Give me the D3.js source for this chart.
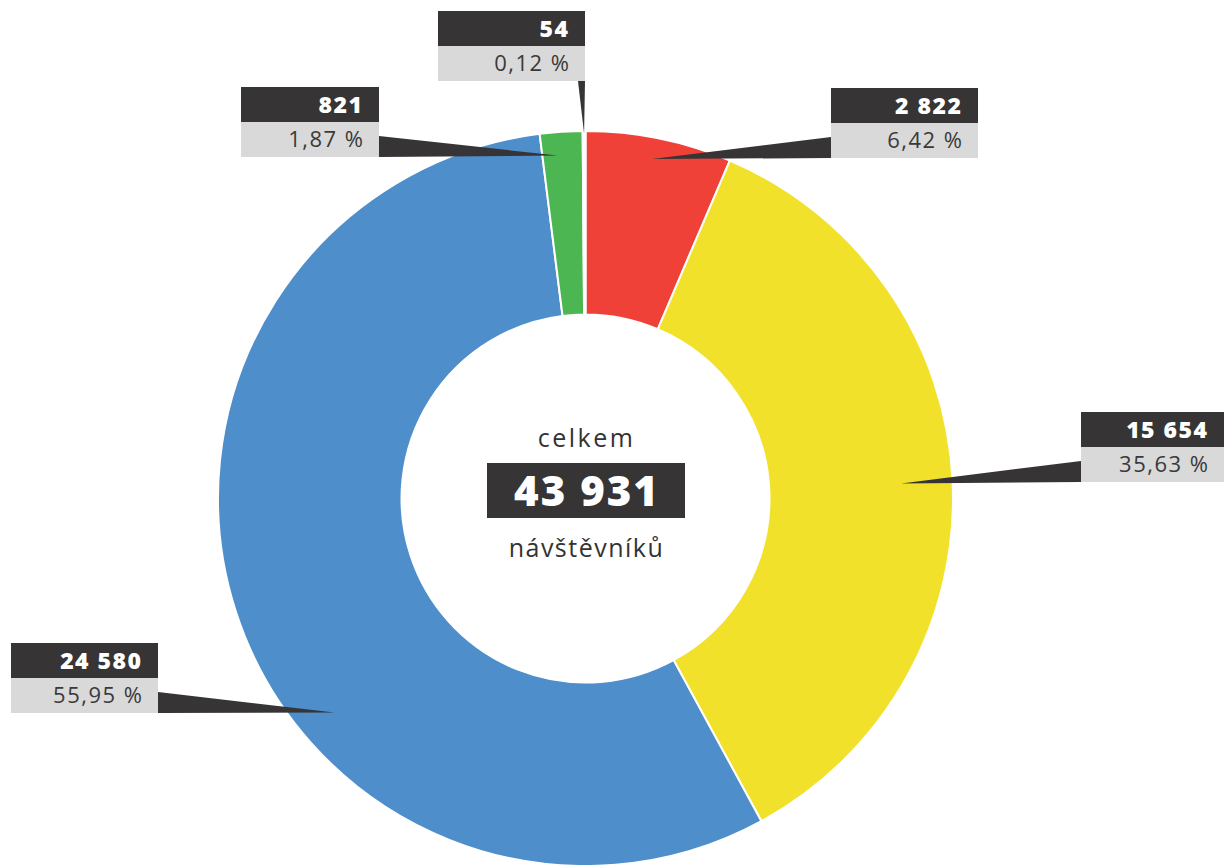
<!DOCTYPE html>
<html>
<head>
<meta charset="utf-8">
<script src="https://cdn.jsdelivr.net/npm/d3@7"></script>
<style>
  html, body { margin: 0; padding: 0; background: #fff; }
  svg { display: block; }
  text { font-family: "Open Sans", Lato, sans-serif; }
</style>
</head>
<body>
<svg id="chart" width="1224" height="865"></svg>
<script>
// ---- data ----
const categories = ["A", "B", "C", "D", "E"];
const values = [2822, 15654, 24580, 821, 54];
const colors = ["#EF4137", "#F2E12B", "#4E8ECB", "#4CB752", "#FFFFFF"];
const centerTop = "celkem";
const centerBottom = "návštěvníků";

// ---- label layout (annotation boxes) ----
const boxX = [831, 1081, 11, 241, 438];
const boxY = [88, 412, 643, 87, 11];
const boxW = [147, 143, 147, 138, 147];
const boxSide = ["left", "left", "right", "right", "bottom"];
const tipT = [0.48, 0.5, 0.388, 0.38, 0.5];
const tipR = [346, 316, 330, 344, 365];

const W = 1224, H = 865;
const cx = 585.5, cy = 498.5;
const outerR = 367.5, innerR = 184;
const dark = "#363435", light = "#D9D9D9";

const loc = d3.formatLocale({decimal: ",", thousands: " ", grouping: [3], currency: ["", ""]});
const fmtInt = loc.format(",d");
const fmtPct = loc.format(".2f");

const total = d3.sum(values);
const svg = d3.select("#chart");

const pie = d3.pie().sort(null).startAngle(0).endAngle(2 * Math.PI).value(d => d);
const arcs = pie(values);
const arc = d3.arc().innerRadius(innerR).outerRadius(outerR);

const g = svg.append("g").attr("transform", `translate(${cx},${cy})`);
g.selectAll("path.slice").data(arcs).join("path")
  .attr("class", "slice")
  .attr("d", arc)
  .attr("fill", (d, i) => colors[i])
  .attr("stroke", "#fff")
  .attr("stroke-width", 2);

// callouts
const bh = 35;
arcs.forEach((d, i) => {
  const a = d.startAngle + tipT[i] * (d.endAngle - d.startAngle);
  const tx = cx + tipR[i] * Math.sin(a);
  const ty = cy - tipR[i] * Math.cos(a);
  const x = boxX[i], y = boxY[i], w = boxW[i];
  const bottom = y + 2 * bh;
  let pts;
  if (boxSide[i] === "left") pts = [[x, bottom - 21], [x, bottom], [tx, ty]];
  else if (boxSide[i] === "right") pts = [[x + w, bottom - 21], [x + w, bottom], [tx, ty]];
  else pts = [[x + w - 7, bottom], [x + w, bottom], [tx, ty]];
  svg.append("path").attr("d", d3.line()(pts) + "Z").attr("fill", dark);

  svg.append("rect").attr("x", x).attr("y", y).attr("width", w).attr("height", bh).attr("fill", dark);
  svg.append("rect").attr("x", x).attr("y", y + bh).attr("width", w).attr("height", bh).attr("fill", light);
  svg.append("text").attr("x", x + w - 17 + 1.5).attr("y", y + 26)
    .attr("text-anchor", "end").attr("fill", "#fff")
    .attr("font-size", 23).attr("font-weight", 800)
    .attr("letter-spacing", 1.5)
    .text(fmtInt(values[i]));
  svg.append("text").attr("x", x + w - 16 + 1.5).attr("y", y + bh + 25)
    .attr("text-anchor", "end").attr("fill", "#3a3a3a")
    .attr("font-size", 22).attr("font-weight", 400)
    .attr("letter-spacing", 1.5)
    .text(fmtPct(values[i] / total * 100) + " %");
});

// center
svg.append("text").attr("x", cx + 1).attr("y", 447).attr("text-anchor", "middle")
  .attr("fill", "#333").attr("font-size", 25).attr("letter-spacing", 2.5).text(centerTop);
svg.append("rect").attr("x", 487).attr("y", 463).attr("width", 198).attr("height", 55).attr("fill", dark);
svg.append("text").attr("x", 587).attr("y", 506).attr("text-anchor", "middle")
  .attr("fill", "#fff").attr("font-size", 42).attr("font-weight", 800)
  .attr("letter-spacing", 2).text(fmtInt(total));
svg.append("text").attr("x", cx + 1).attr("y", 557).attr("text-anchor", "middle")
  .attr("fill", "#333").attr("font-size", 25).attr("letter-spacing", 1.5).text(centerBottom);
</script>
</body>
</html>
